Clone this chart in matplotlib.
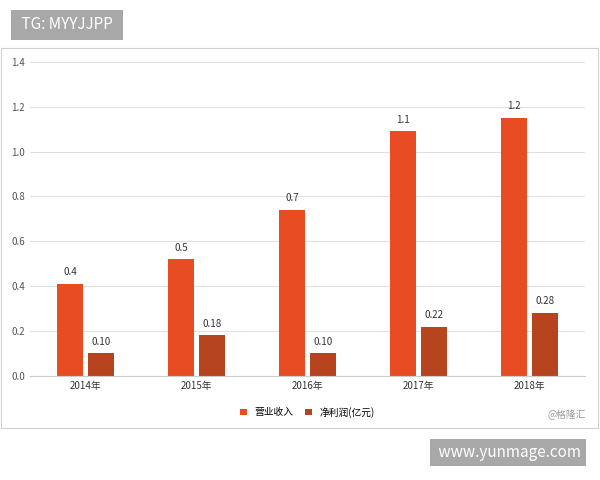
import matplotlib.pyplot as plt
import numpy as np

plt.rcParams['font.family'] = ['Noto Sans CJK SC', 'DejaVu Sans']

years = ['2014年', '2015年', '2016年', '2017年', '2018年']
revenue = [0.41, 0.52, 0.74, 1.09, 1.15]
revenue_labels = ['0.4', '0.5', '0.7', '1.1', '1.2']
profit = [0.10, 0.18, 0.10, 0.22, 0.28]
profit_labels = ['0.10', '0.18', '0.10', '0.22', '0.28']

fig = plt.figure(figsize=(6, 4.8), dpi=100)
# outer chart frame
frame = fig.add_axes([0.002, 0.108, 0.994, 0.792])
frame.set_xticks([]); frame.set_yticks([])
for s in frame.spines.values():
    s.set_color('#d0d0d0')

ax = fig.add_axes([0.05, 0.217, 0.925, 0.654])
x = np.arange(len(years))
w = 0.24
off = 0.14
c1, c2 = '#e84c22', '#b5441f'
ax.bar(x - off, revenue, w, color=c1, label='营业收入')
ax.bar(x + off, profit, w, color=c2, label='净利润(亿元)')
for xi, v, t in zip(x, revenue, revenue_labels):
    ax.text(xi - off, v + 0.03, t, ha='center', va='bottom', fontsize=7, color='#333333')
for xi, v, t in zip(x, profit, profit_labels):
    ax.text(xi + off, v + 0.03, t, ha='center', va='bottom', fontsize=7, color='#333333')

ax.set_ylim(0, 1.4)
ax.set_xlim(-0.5, 4.5)
ax.set_yticks(np.arange(0, 1.41, 0.2))
ax.set_yticklabels([f'{v:.1f}' for v in np.arange(0, 1.41, 0.2)], fontsize=7, color='#555555')
ax.set_xticks(x)
ax.set_xticklabels(years, fontsize=7, color='#333333')
ax.grid(axis='y', color='#e0e0e0', linewidth=0.8)
ax.set_axisbelow(True)
for s in ['top', 'right', 'left']:
    ax.spines[s].set_visible(False)
ax.spines['bottom'].set_color('#cccccc')
ax.tick_params(length=0)
ax.legend(loc='upper center', bbox_to_anchor=(0.5, -0.07), ncol=2, frameon=False,
          fontsize=7, handlelength=0.7, handleheight=0.7, columnspacing=1.2)

fig.text(0.913, 0.128, '@格隆汇', fontsize=7, color='#999999')
fig.text(0.03, 0.948, ' TG: MYYJJPP ', fontsize=11, color='white', va='center',
         bbox=dict(boxstyle='square,pad=0.45', fc='#a8a8a8', ec='none'))
fig.text(0.725, 0.057, ' www.yunmage.com', fontsize=11, color='white', va='center',
         bbox=dict(boxstyle='square,pad=0.35', fc='#a8a8a8', ec='none'))

fig.savefig('out.png', dpi=100, facecolor='white')
